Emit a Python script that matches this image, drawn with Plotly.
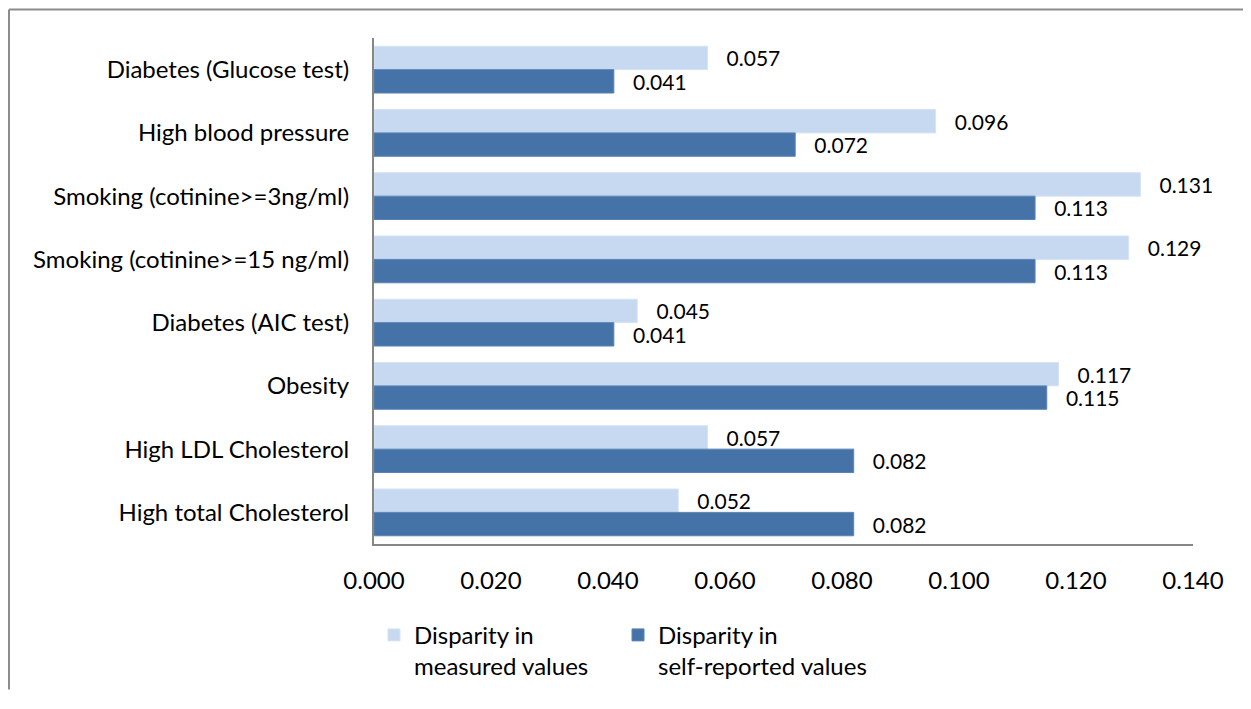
import plotly.graph_objects as go

categories = [
    "Diabetes (Glucose test)",
    "High blood pressure",
    "Smoking (cotinine>=3ng/ml)",
    "Smoking (cotinine>=15 ng/ml)",
    "Diabetes (AIC test)",
    "Obesity",
    "High LDL Cholesterol",
    "High total Cholesterol",
]
measured = [0.057, 0.096, 0.131, 0.129, 0.045, 0.117, 0.057, 0.052]
self_reported = [0.041, 0.072, 0.113, 0.113, 0.041, 0.115, 0.082, 0.082]
series_names = ["Disparity in<br>measured values", "Disparity in<br>self-reported values"]
x_ticks = [0.0, 0.02, 0.04, 0.06, 0.08, 0.10, 0.12, 0.14]

FONT = "Lato"
FS = 24
LIGHT = "#C6D9F1"
DARK = "#4573A7"

fig = go.Figure()
for vals, name, color, edge, lg in [
    (measured, series_names[0], LIGHT, "#D6E3F4", "legend"),
    (self_reported, series_names[1], DARK, "#5A84B4", "legend2"),
]:
    fig.add_trace(go.Bar(
        y=categories, x=vals, orientation="h", name=name, legend=lg,
        marker=dict(color=color, line=dict(color=edge, width=1)),
        text=vals, texttemplate="   %{x:.3f}", textposition="outside",
        constraintext="none", cliponaxis=False,
        textfont=dict(family=FONT, size=21, color="#000000"),
    ))

# page has an 8px body margin; keep the page within the window (no scrollbar)
W, H = 1243, 693
L, R, T, B = 366, 58, 30, 148
pw, ph = W - L - R, H - T - B

leg_common = dict(
    orientation="h", xanchor="left",
    y=-(615 - (T + ph)) / ph, yanchor="top", valign="top",
    font=dict(family=FONT, size=FS), bgcolor="rgba(0,0,0,0)",
)

fig.update_layout(
    width=W, height=H,
    margin=dict(l=L, r=R, t=T, b=B, pad=0),
    barmode="group", bargap=0.26, bargroupgap=0,
    paper_bgcolor="white", plot_bgcolor="white",
    font=dict(family=FONT, size=FS, color="#000000"),
    showlegend=True,
    legend=dict(x=0, **leg_common),
    legend2=dict(x=(618 - 374) / pw, **leg_common),
    xaxis=dict(
        range=[0, 0.14], tickvals=x_ticks, tickformat=".3f",
        showgrid=False, zeroline=False, showline=True,
        linecolor="#868686", linewidth=2, ticks="",
        ticklabelstandoff=14, tickfont=dict(family=FONT, size=FS),
    ),
    yaxis=dict(
        autorange="reversed", showgrid=False, zeroline=False,
        showline=True, linecolor="#868686", linewidth=2, ticks="",
        ticklabelstandoff=18, tickfont=dict(family=FONT, size=FS),
    ),
    shapes=[
        dict(type="line", xref="paper", yref="paper",
             x0=(1 - L) / pw, x1=(1 - L) / pw,
             y0=-(H - (T + ph)) / ph, y1=1 + (T - 1) / ph,
             line=dict(color="#8C8C8C", width=2)),
        dict(type="line", xref="paper", yref="paper",
             x0=(1 - L) / pw, x1=(W - L) / pw,
             y0=1 + (T - 1) / ph, y1=1 + (T - 1) / ph,
             line=dict(color="#8C8C8C", width=2)),
    ],
)

fig.write_html("out.html")
